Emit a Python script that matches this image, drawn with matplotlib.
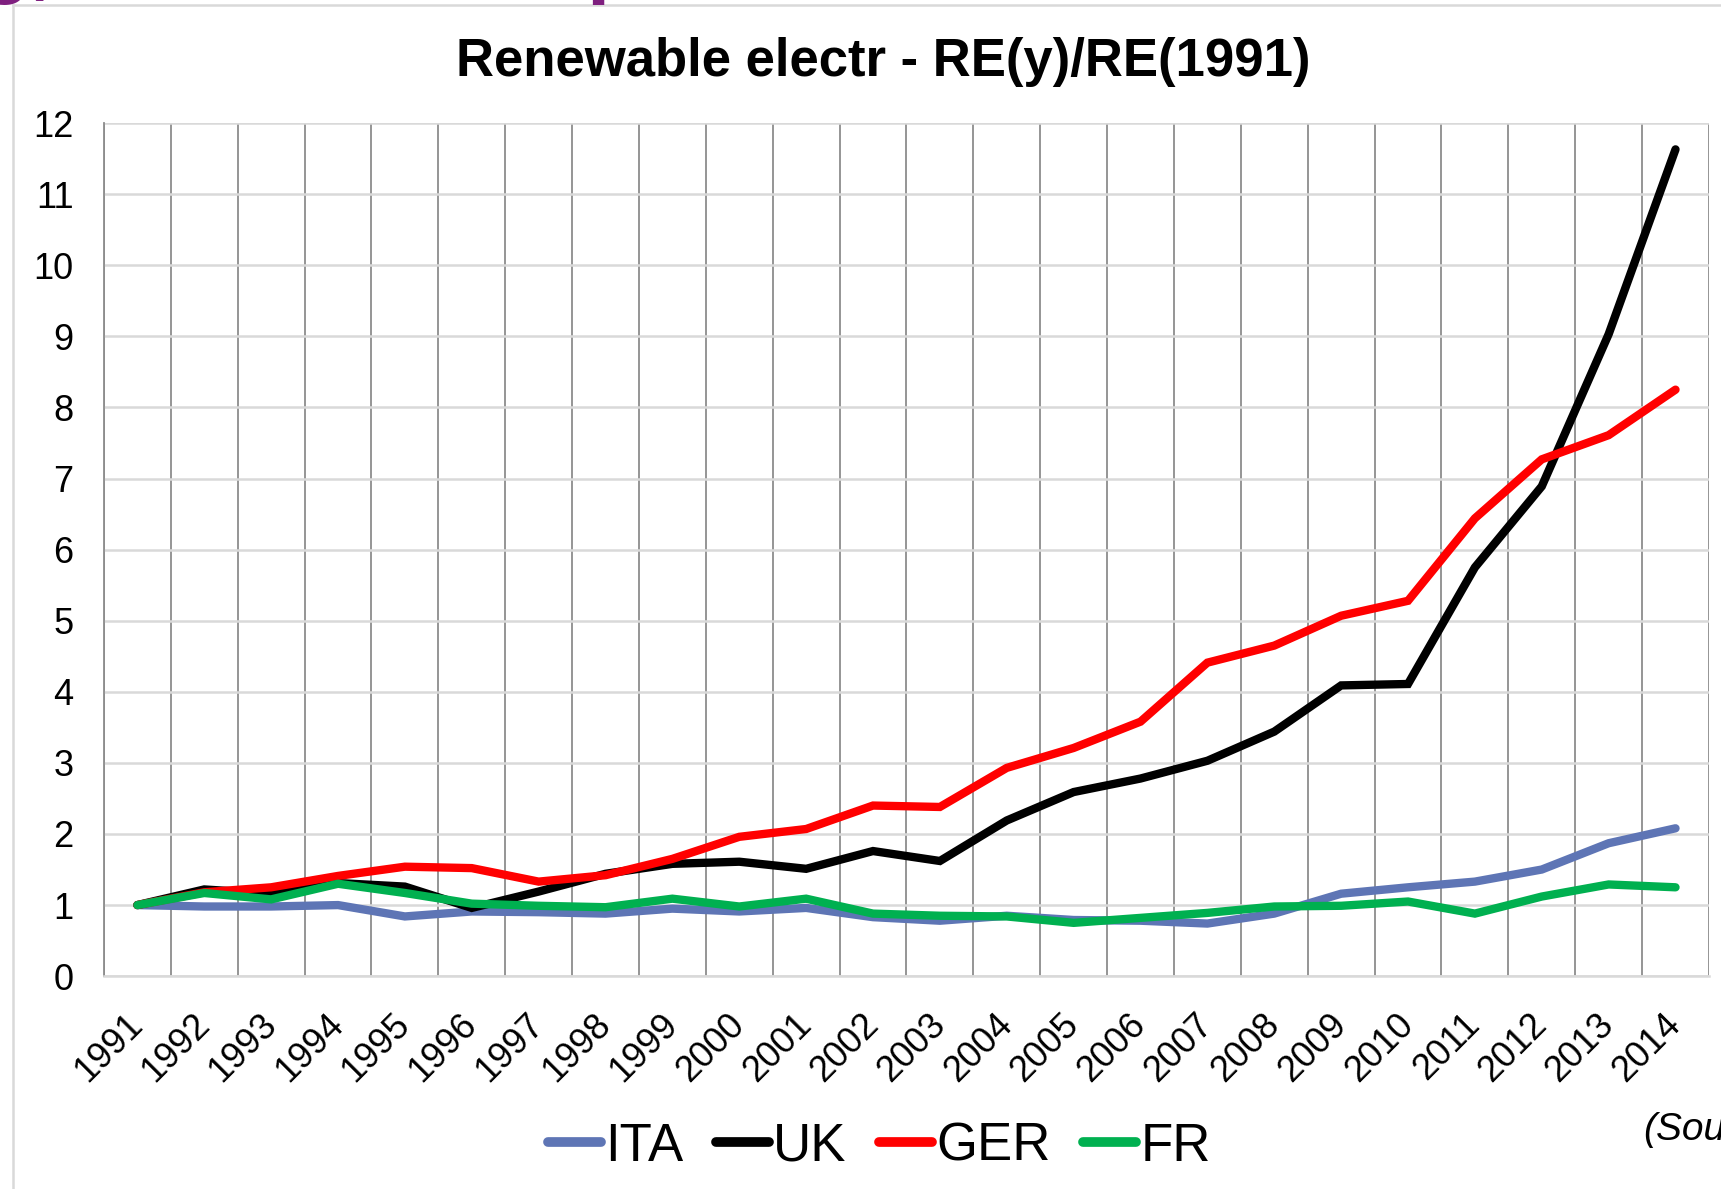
import matplotlib
matplotlib.use('Agg')
import matplotlib.pyplot as plt
from matplotlib.lines import Line2D

plt.rcParams['font.family'] = ['Liberation Sans', 'DejaVu Sans']

# RE(y)/RE(1991)
years = [str(y) for y in range(1991, 2015)]
ita = [1.00, 0.98, 0.98, 1.00, 0.84, 0.91, 0.90, 0.88, 0.95, 0.91, 0.96, 0.83,
       0.78, 0.85, 0.79, 0.78, 0.74, 0.88, 1.16, 1.25, 1.33, 1.50, 1.87, 2.08]
uk = [1.00, 1.22, 1.16, 1.31, 1.26, 0.96, 1.19, 1.44, 1.58, 1.61, 1.51, 1.76,
      1.62, 2.19, 2.59, 2.78, 3.03, 3.44, 4.09, 4.11, 5.75, 6.89, 9.03, 11.63]
ger = [1.00, 1.18, 1.25, 1.41, 1.54, 1.52, 1.33, 1.42, 1.65, 1.96, 2.07, 2.40,
       2.38, 2.93, 3.21, 3.58, 4.41, 4.65, 5.07, 5.28, 6.44, 7.27, 7.61, 8.25]
fr = [1.00, 1.17, 1.08, 1.30, 1.17, 1.02, 0.99, 0.97, 1.09, 0.98, 1.09, 0.88,
      0.85, 0.84, 0.75, 0.82, 0.89, 0.98, 0.99, 1.05, 0.88, 1.12, 1.29, 1.25]

series = [('ITA', ita, '#5e75b5'), ('UK', uk, '#000000'),
          ('GER', ger, '#ff0000'), ('FR', fr, '#00b050')]

fig = plt.figure(figsize=(17.21, 11.89), dpi=100)
ax = fig.add_axes([0.0604, 0.179, 0.9326, 0.7175])

x = list(range(len(years)))
for name, vals, col in series:
    ax.plot(x, vals, color=col, lw=6, label=name,
            solid_capstyle='round', solid_joinstyle='miter')

ax.set_xlim(-0.5, len(years) - 0.5)
ax.set_ylim(0, 12)
ax.set_yticks(range(0, 13))
ax.set_xticks(x)
ax.set_xticklabels(years)
ax.set_xticks([i - 0.5 for i in range(len(years) + 1)], minor=True)

ax.grid(axis='y', which='major', color='#d9d9d9', lw=1.8)
ax.grid(axis='x', which='minor', color='#8c8c8c', lw=1.3)
ax.grid(axis='x', which='major', visible=False)
ax.set_axisbelow(True)

for s in ['top', 'right']:
    ax.spines[s].set_visible(False)
ax.spines['left'].set_color('#8c8c8c')
ax.spines['left'].set_linewidth(1.3)
ax.spines['bottom'].set_color('#d9d9d9')
ax.spines['bottom'].set_linewidth(1.8)

ax.tick_params(axis='both', which='both', length=0, labelsize=26)
ax.tick_params(axis='y', pad=22)
ax.tick_params(axis='x', pad=31)
plt.setp(ax.get_xticklabels(), rotation=45, ha='right', va='center',
         rotation_mode='anchor')

fig.text(0.513, 0.948, 'Renewable electr - RE(y)/RE(1991)', ha='center',
         va='center', fontsize=38, fontweight='bold')

leg = fig.legend(loc='center', bbox_to_anchor=(0.511, 0.0355), ncol=4,
                 frameon=False, fontsize=38, handlelength=1.0,
                 handletextpad=0.08, columnspacing=0.62)
for h in leg.get_lines():
    h.set_linewidth(7)
    h.set_solid_capstyle('round')

fig.text(0.9547, 0.0412, '(Source', ha='left', va='baseline', fontsize=28,
         style='italic')

# slide frame and cut-off slide heading above the chart
fig.add_artist(Line2D([13 / 1721, 1], [1 - 5 / 1189, 1 - 5 / 1189],
                      color='#d9d9d9', lw=1.8))
fig.add_artist(Line2D([13 / 1721, 13 / 1721], [0, 1 - 5 / 1189],
                      color='#d9d9d9', lw=1.8))
fig.text(0.341, 1 + 12 / 1189, 'p', ha='left', va='baseline', fontsize=60,
         fontweight='bold', color='#7f1f7f')
fig.text(-0.012, 1 + 12 / 1189, 'g,', ha='left', va='baseline', fontsize=60,
         fontweight='bold', color='#7f1f7f')

fig.savefig('out.png', dpi=100)
